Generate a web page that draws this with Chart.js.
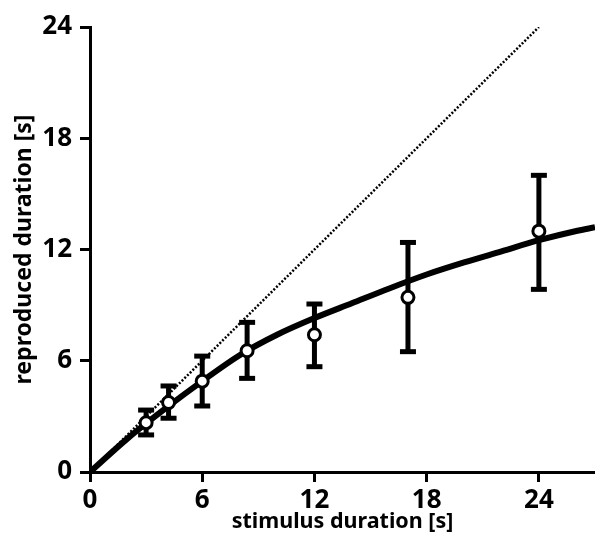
<!DOCTYPE html>
<html>
<head>
<meta charset="utf-8">
<script src="https://cdn.jsdelivr.net/npm/chart.js@4"></script>
<style>
  html, body { margin: 0; padding: 0; background: #fff; }
  #wrap { width: 595px; height: 543px; }
</style>
</head>
<body>
<div id="wrap"><canvas id="chart"></canvas></div>
<script>
// stimulus durations and mean reproduced durations
const stimulus = [3, 4.2, 6, 8.4, 12, 17, 24];
const reproduced = [2.66, 3.75, 4.9, 6.54, 7.4, 9.42, 12.99];
const errLow = [2.0, 2.9, 3.56, 5.05, 5.68, 6.49, 9.85];
const errHigh = [3.34, 4.64, 6.25, 8.07, 9.06, 12.38, 16.0];

// fitted curve
const curveX = [0, 2, 4, 6, 8, 10, 12, 14, 16, 18, 20, 22, 24, 26, 27];
const curveY = [0, 1.8, 3.4, 4.9, 6.3, 7.4, 8.3, 9.1, 9.9, 10.65, 11.3, 11.9, 12.5, 13.0, 13.2];

// identity line
const identX = [0, 24];
const identY = [0, 24];

const xTicks = [0, 6, 12, 18, 24];
const yTicks = [0, 6, 12, 18, 24];

Chart.defaults.font.family = '"Noto Sans", "DejaVu Sans", sans-serif';
Chart.defaults.color = '#000';

const pts = (xs, ys) => xs.map((x, i) => ({x: x, y: ys[i]}));

const errorSets = stimulus.map((x, i) => ({
  data: [{x: x, y: errLow[i]}, {x: x, y: errHigh[i]}],
  borderColor: '#000',
  borderWidth: 5,
  pointStyle: 'line',
  pointRadius: 8,
  pointBorderWidth: 5,
  pointBorderColor: '#000',
  showLine: true,
  order: 1
}));

const config = {
  type: 'scatter',
  data: {
    datasets: [
      {
        data: pts(stimulus, reproduced),
        pointStyle: 'circle',
        pointRadius: 6,
        pointBorderWidth: 3,
        pointBorderColor: '#000',
        pointBackgroundColor: '#fff',
        showLine: false,
        order: 0
      },
      ...errorSets,
      {
        data: pts(curveX, curveY),
        showLine: true,
        borderColor: '#000',
        borderWidth: 6,
        pointRadius: 0,
        cubicInterpolationMode: 'monotone',
        order: 2
      },
      {
        data: pts(identX, identY),
        showLine: true,
        borderColor: '#000',
        borderWidth: 2.5,
        borderDash: [2, 1.8],
        pointRadius: 0,
        order: 3
      }
    ]
  },
  options: {
    responsive: true,
    maintainAspectRatio: false,
    animation: false,
    layout: { autoPadding: false, padding: { top: 27, right: 0, left: 0, bottom: 0 } },
    plugins: { legend: { display: false }, tooltip: { enabled: false } },
    scales: {
      x: {
        type: 'linear',
        min: 0,
        max: 27,
        afterBuildTicks: (s) => { s.ticks = xTicks.map(v => ({value: v})); },
        afterFit: (s) => { s.height = 71; s.paddingRight = 0; s.paddingLeft = 0; },
        grid: { drawOnChartArea: false, drawTicks: true, tickLength: 10, tickWidth: 3, color: '#000' },
        border: { display: true, width: 3, color: '#000' },
        ticks: { padding: 3, font: { size: 26, weight: 'bold' }, maxRotation: 0 },
        title: { display: true, text: 'stimulus duration [s]', padding: 8, font: { size: 21.5, weight: 'bold' } }
      },
      y: {
        type: 'linear',
        min: 0,
        max: 24,
        afterBuildTicks: (s) => { s.ticks = yTicks.map(v => ({value: v})); },
        afterFit: (s) => { s.width = 90; s.paddingTop = 0; s.paddingBottom = 0; },
        grid: { drawOnChartArea: false, drawTicks: true, tickLength: 10, tickWidth: 3, color: '#000' },
        border: { display: true, width: 3, color: '#000' },
        ticks: { padding: 8, font: { size: 26, weight: 'bold' } },
        title: { display: true, text: 'reproduced duration [s]', padding: 11, font: { size: 23, weight: 'bold' } }
      }
    }
  }
};

new Chart(document.getElementById('chart'), config);
</script>
</body>
</html>
